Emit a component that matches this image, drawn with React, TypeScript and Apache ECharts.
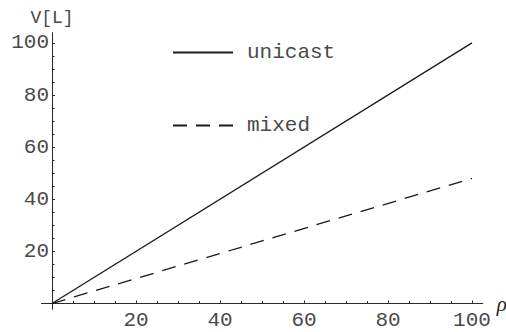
import React, { useEffect, useRef } from "react";
import * as echarts from "echarts";

const rho = [0, 100];
const unicast = [0, 100];
const mixed = [0, 48];
const majorTicks = [20, 40, 60, 80, 100];
const minorTicks = [5, 10, 15, 25, 30, 35, 45, 50, 55, 65, 70, 75, 85, 90, 95];
const seriesNames = ["unicast", "mixed"];

const MONO = "'Liberation Mono', 'Courier New', monospace";
const AX = "#2a2a2a";
const TXT = "#4a4a4a";

export default function App() {
  const ref = useRef<HTMLDivElement>(null);
  useEffect(() => {
    document.body.style.margin = "0";
    const chart = echarts.init(ref.current!, null, { renderer: "svg" });
    const xCommon = {
      type: "value" as const,
      min: -2.45,
      max: 102.55,
      position: "bottom" as const,
      offset: -5.5,
      splitLine: { show: false },
      axisLine: { show: true, onZero: false, lineStyle: { color: AX, width: 1 } },
    };
    const yCommon = {
      type: "value" as const,
      min: -2.1,
      max: 103.8,
      position: "left" as const,
      offset: -10.3,
      splitLine: { show: false },
      axisLine: { show: true, onZero: false, lineStyle: { color: AX, width: 1 } },
    };
    chart.setOption({
      animation: false,
      backgroundColor: "#fff",
      grid: { left: 41.7, right: 23.3, top: 33, bottom: 23, containLabel: false, outerBoundsMode: "none" },
      legend: {
        data: seriesNames,
        orient: "vertical",
        left: 167,
        top: 37,
        itemWidth: 60,
        itemHeight: 14,
        itemGap: 52,
        itemStyle: { color: "transparent", borderColor: "transparent", borderWidth: 0, opacity: 0 },
        textStyle: { fontFamily: MONO, fontSize: 21, color: TXT, padding: [0, 0, 0, 9] },
      },
      xAxis: [
        {
          ...xCommon,
          name: "ρ",
          nameLocation: "end",
          nameGap: 6,
          nameTextStyle: {
            fontFamily: "'Liberation Serif', serif",
            fontStyle: "italic",
            fontSize: 21,
            color: "#222",
            padding: [0, 0, 28, 0],
          },
          axisTick: { show: true, inside: true, length: 3, customValues: majorTicks, lineStyle: { color: AX } },
          axisLabel: {
            show: true,
            customValues: majorTicks,
            margin: 6,
            fontFamily: MONO,
            fontSize: 21,
            color: TXT,
          },
        },
        {
          ...xCommon,
          axisTick: { show: true, inside: true, length: 2.5, customValues: minorTicks, lineStyle: { color: AX } },
          axisLabel: { show: false },
        },
      ],
      yAxis: [
        {
          ...yCommon,
          name: "V[L]",
          nameLocation: "end",
          nameGap: 6,
          nameTextStyle: { fontFamily: MONO, fontSize: 18, color: TXT, align: "center" },
          axisTick: { show: false },
          axisLabel: { show: false },
        },
        {
          ...yCommon,
          axisTick: { show: true, inside: true, length: 3, customValues: majorTicks, lineStyle: { color: AX } },
          axisLabel: { show: false },
        },
        {
          ...yCommon,
          axisTick: { show: true, inside: true, length: 2.5, customValues: minorTicks, lineStyle: { color: AX } },
          axisLabel: { show: false },
        },
        {
          ...yCommon,
          offset: -13.3,
          axisLine: { show: false },
          axisTick: { show: false },
          axisLabel: {
            show: true,
            customValues: majorTicks,
            margin: 6,
            align: "right",
            fontFamily: MONO,
            fontSize: 21,
            color: TXT,
          },
        },
      ],
      series: [
        {
          name: seriesNames[0],
          type: "line",
          xAxisIndex: 0,
          yAxisIndex: 0,
          data: rho.map((x, i) => [x, unicast[i]]),
          symbol: "none",
          lineStyle: { color: "#1a1a1a", width: 1.3, type: "solid" },
          itemStyle: { color: "#1a1a1a" },
        },
        {
          name: seriesNames[1],
          type: "line",
          xAxisIndex: 0,
          yAxisIndex: 0,
          data: rho.map((x, i) => [x, mixed[i]]),
          symbol: "none",
          lineStyle: { color: "#1a1a1a", width: 1.3, type: [14, 9] },
          itemStyle: { color: "#1a1a1a" },
        },
      ],
    });
    return () => chart.dispose();
  }, []);
  return <div ref={ref} style={{ width: 506, height: 332 }} />;
}
